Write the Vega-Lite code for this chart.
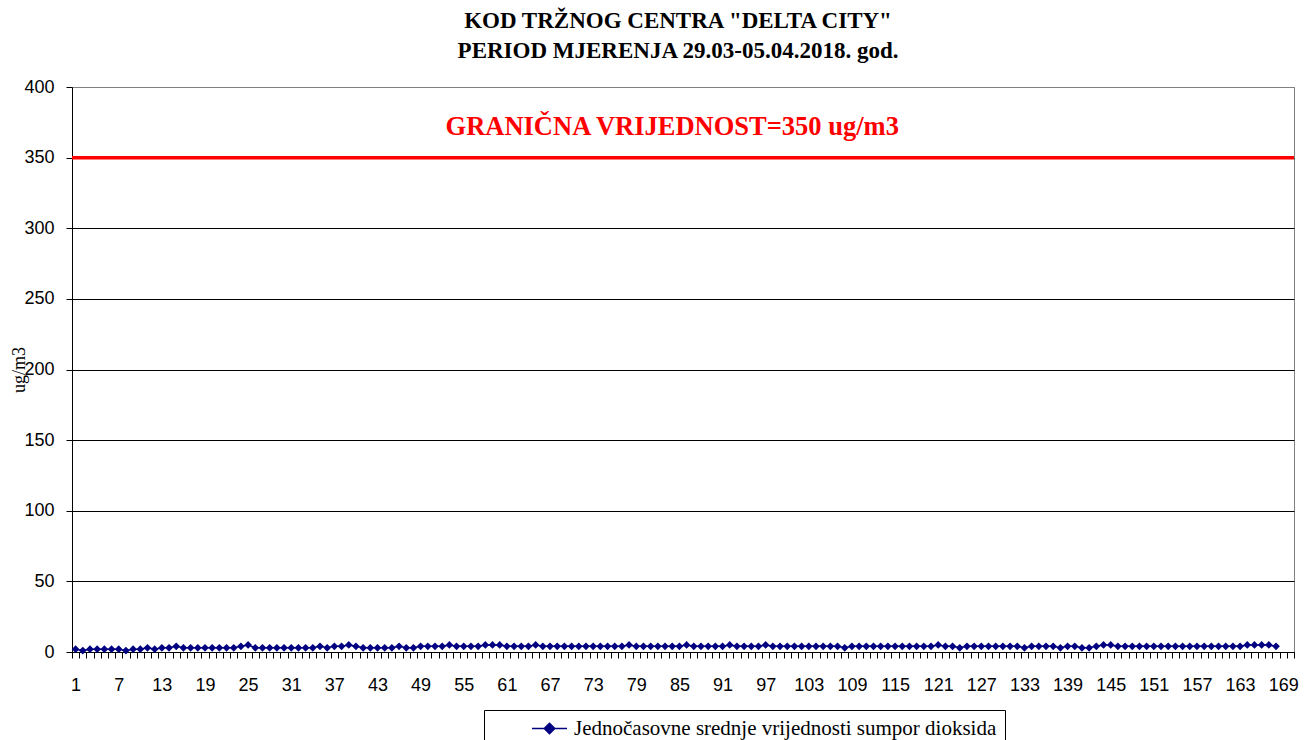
{
  "$schema": "https://vega.github.io/schema/vega-lite/v6.json",
  "width": 1222,
  "height": 565,
  "autosize": {"type": "none"},
  "padding": {"left": 72, "top": 87, "right": 16, "bottom": 88},
  "background": "white",
  "config": {
    "view": {"stroke": "#808080", "strokeWidth": 1},
    "font": "Liberation Serif"
  },
  "title": {
    "text": ["KOD TRŽNOG CENTRA \"DELTA CITY\"", "PERIOD MJERENJA  29.03-05.04.2018. god."],
    "font": "Liberation Serif",
    "fontSize": 23,
    "fontWeight": "bold",
    "color": "black",
    "lineHeight": 30,
    "anchor": "middle",
    "dx": -5,
    "offset": 15
  },
  "datasets": {
    "so2": [
      {"h":1,"v":2},{"h":2,"v":1},{"h":3,"v":2},{"h":4,"v":2},{"h":5,"v":2},{"h":6,"v":2},{"h":7,"v":2},{"h":8,"v":1},{"h":9,"v":2},{"h":10,"v":2},
      {"h":11,"v":3},{"h":12,"v":2},{"h":13,"v":3},{"h":14,"v":3},{"h":15,"v":4},{"h":16,"v":3},{"h":17,"v":3},{"h":18,"v":3},{"h":19,"v":3},{"h":20,"v":3},
      {"h":21,"v":3},{"h":22,"v":3},{"h":23,"v":3},{"h":24,"v":4},{"h":25,"v":5},{"h":26,"v":3},{"h":27,"v":3},{"h":28,"v":3},{"h":29,"v":3},{"h":30,"v":3},
      {"h":31,"v":3},{"h":32,"v":3},{"h":33,"v":3},{"h":34,"v":3},{"h":35,"v":4},{"h":36,"v":3},{"h":37,"v":4},{"h":38,"v":4},{"h":39,"v":5},{"h":40,"v":4},
      {"h":41,"v":3},{"h":42,"v":3},{"h":43,"v":3},{"h":44,"v":3},{"h":45,"v":3},{"h":46,"v":4},{"h":47,"v":3},{"h":48,"v":3},{"h":49,"v":4},{"h":50,"v":4},
      {"h":51,"v":4},{"h":52,"v":4},{"h":53,"v":5},{"h":54,"v":4},{"h":55,"v":4},{"h":56,"v":4},{"h":57,"v":4},{"h":58,"v":5},{"h":59,"v":5},{"h":60,"v":5},
      {"h":61,"v":4},{"h":62,"v":4},{"h":63,"v":4},{"h":64,"v":4},{"h":65,"v":5},{"h":66,"v":4},{"h":67,"v":4},{"h":68,"v":4},{"h":69,"v":4},{"h":70,"v":4},
      {"h":71,"v":4},{"h":72,"v":4},{"h":73,"v":4},{"h":74,"v":4},{"h":75,"v":4},{"h":76,"v":4},{"h":77,"v":4},{"h":78,"v":5},{"h":79,"v":4},{"h":80,"v":4},
      {"h":81,"v":4},{"h":82,"v":4},{"h":83,"v":4},{"h":84,"v":4},{"h":85,"v":4},{"h":86,"v":5},{"h":87,"v":4},{"h":88,"v":4},{"h":89,"v":4},{"h":90,"v":4},
      {"h":91,"v":4},{"h":92,"v":5},{"h":93,"v":4},{"h":94,"v":4},{"h":95,"v":4},{"h":96,"v":4},{"h":97,"v":5},{"h":98,"v":4},{"h":99,"v":4},{"h":100,"v":4},
      {"h":101,"v":4},{"h":102,"v":4},{"h":103,"v":4},{"h":104,"v":4},{"h":105,"v":4},{"h":106,"v":4},{"h":107,"v":4},{"h":108,"v":3},{"h":109,"v":4},{"h":110,"v":4},
      {"h":111,"v":4},{"h":112,"v":4},{"h":113,"v":4},{"h":114,"v":4},{"h":115,"v":4},{"h":116,"v":4},{"h":117,"v":4},{"h":118,"v":4},{"h":119,"v":4},{"h":120,"v":4},
      {"h":121,"v":5},{"h":122,"v":4},{"h":123,"v":4},{"h":124,"v":3},{"h":125,"v":4},{"h":126,"v":4},{"h":127,"v":4},{"h":128,"v":4},{"h":129,"v":4},{"h":130,"v":4},
      {"h":131,"v":4},{"h":132,"v":4},{"h":133,"v":3},{"h":134,"v":4},{"h":135,"v":4},{"h":136,"v":4},{"h":137,"v":4},{"h":138,"v":3},{"h":139,"v":4},{"h":140,"v":4},
      {"h":141,"v":3},{"h":142,"v":3},{"h":143,"v":4},{"h":144,"v":5},{"h":145,"v":5},{"h":146,"v":4},{"h":147,"v":4},{"h":148,"v":4},{"h":149,"v":4},{"h":150,"v":4},
      {"h":151,"v":4},{"h":152,"v":4},{"h":153,"v":4},{"h":154,"v":4},{"h":155,"v":4},{"h":156,"v":4},{"h":157,"v":4},{"h":158,"v":4},{"h":159,"v":4},{"h":160,"v":4},
      {"h":161,"v":4},{"h":162,"v":4},{"h":163,"v":4},{"h":164,"v":5},{"h":165,"v":5},{"h":166,"v":5},{"h":167,"v":5},{"h":168,"v":4}
    ],
    "one": [{"label": "GRANIČNA VRIJEDNOST=350 ug/m3"}]
  },
  "layer": [
    {
      "data": {"name": "so2"},
      "mark": {"type": "line", "color": "#000080", "strokeWidth": 1.5, "point": {"shape": "diamond", "filled": true, "size": 60, "color": "#000080"}},
      "encoding": {
        "x": {
          "field": "h",
          "type": "ordinal",
          "scale": {
            "domain": [1,2,3,4,5,6,7,8,9,10,11,12,13,14,15,16,17,18,19,20,21,22,23,24,25,26,27,28,29,30,31,32,33,34,35,36,37,38,39,40,41,42,43,44,45,46,47,48,49,50,51,52,53,54,55,56,57,58,59,60,61,62,63,64,65,66,67,68,69,70,71,72,73,74,75,76,77,78,79,80,81,82,83,84,85,86,87,88,89,90,91,92,93,94,95,96,97,98,99,100,101,102,103,104,105,106,107,108,109,110,111,112,113,114,115,116,117,118,119,120,121,122,123,124,125,126,127,128,129,130,131,132,133,134,135,136,137,138,139,140,141,142,143,144,145,146,147,148,149,150,151,152,153,154,155,156,157,158,159,160,161,162,163,164,165,166,167,168,169,170],
            "paddingInner": 0,
            "paddingOuter": 0
          },
          "axis": {
            "title": null,
            "labelAngle": 0,
            "labelFont": "Liberation Sans",
            "labelFontSize": 18,
            "labelColor": "black",
            "labelPadding": 18,
            "labelExpr": "(datum.value - 1) % 6 == 0 && datum.value < 170 ? datum.label : ''",
            "labelOverlap": false,
            "tickBand": "extent",
            "tickSize": 6,
            "tickColor": "black",
            "domainColor": "black",
            "grid": false
          }
        },
        "y": {
          "field": "v",
          "type": "quantitative",
          "scale": {"domain": [0, 400]},
          "axis": {
            "title": "ug/m3",
            "titleFont": "Liberation Serif",
            "titleFontSize": 18,
            "titleFontWeight": "normal",
            "titleColor": "black",
            "titlePadding": -5,
            "values": [0, 50, 100, 150, 200, 250, 300, 350, 400],
            "labelFont": "Liberation Sans",
            "labelFontSize": 18,
            "labelColor": "black",
            "labelPadding": 12,
            "tickSize": 6,
            "tickColor": "black",
            "domainColor": "black",
            "grid": true,
            "gridColor": {"condition": {"test": "datum.value == 400", "value": "#808080"}, "value": "black"},
            "gridOpacity": 1,
            "gridWidth": 1
          }
        },
        "color": {
          "datum": "Jednočasovne srednje vrijednosti sumpor dioksida",
          "type": "nominal",
          "scale": {"range": ["#000080"]},
          "legend": {
            "title": null,
            "orient": "none",
            "legendX": 412,
            "legendY": 623,
            "strokeColor": "black",
            "fillColor": "white",
            "padding": 8,
            "labelFont": "Liberation Serif",
            "labelFontSize": 21,
            "labelColor": "black",
            "labelLimit": 600,
            "labelOffset": 14,
            "symbolType": "M-2,0L-0.6,0M0.6,0L2,0M0,-0.6L0.6,0L0,0.6L-0.6,0Z",
            "symbolSize": 306,
            "symbolFillColor": "#000080",
            "symbolStrokeColor": "#000080",
            "symbolStrokeWidth": 1.5,
            "symbolOffset": 47
          }
        }
      }
    },
    {
      "data": {"name": "one"},
      "mark": {"type": "rule", "color": "#ff0000", "strokeWidth": 3.5},
      "encoding": {"y": {"datum": 350, "type": "quantitative"}}
    },
    {
      "data": {"name": "one"},
      "mark": {"type": "text", "color": "#ff0000", "font": "Liberation Serif", "fontSize": 26.5, "fontWeight": "bold", "align": "center", "baseline": "middle"},
      "encoding": {
        "x": {"datum": 84, "type": "ordinal"},
        "y": {"datum": 372, "type": "quantitative"},
        "text": {"field": "label"}
      }
    }
  ]
}
